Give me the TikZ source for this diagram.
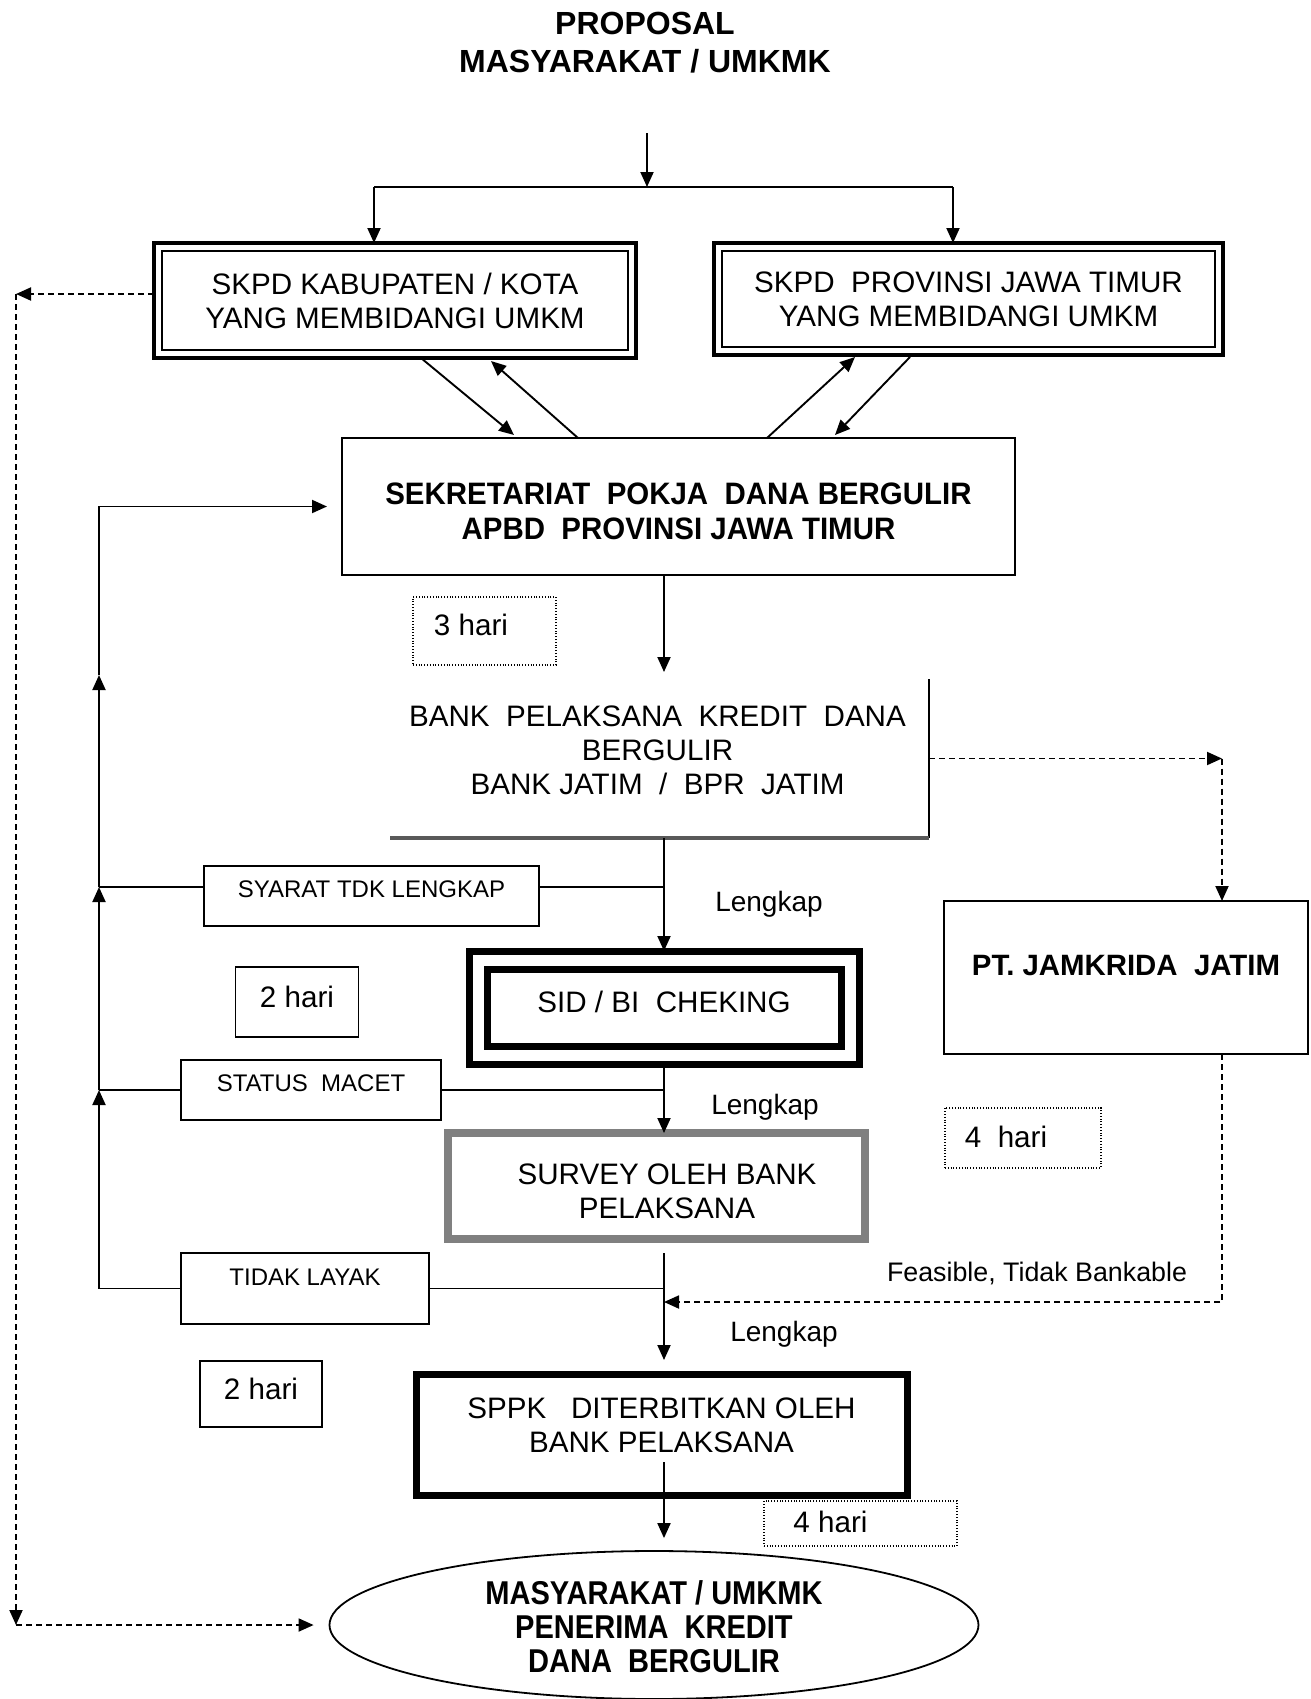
\documentclass[tikz,border=0pt]{standalone}
\usepackage{fontspec}
\setmainfont{Liberation Sans}
\newfontfamily\condA{Liberation Sans}[FakeStretch=0.95]
\newfontfamily\condB{Liberation Sans}[FakeStretch=0.88]
\usetikzlibrary{arrows.meta,calc,shapes.geometric}
\tikzset{
  ln/.style={line width=0.95pt},
  arr/.style={ln,-{Triangle[length=7.5pt,width=6.5pt]}},
  dsh/.style={line width=0.9pt,dash pattern=on 3pt off 2pt},
  rtxt/.style={font=\fontsize{14.8}{17}\selectfont,align=center},
  stxt/.style={font=\fontsize{12}{14}\selectfont,align=center},
  box/.style={rectangle,inner sep=0pt,outer sep=0pt},
  thinbox/.style={box,draw,line width=0.9pt},
  dotbox/.style={box,draw,line width=0.7pt,dash pattern=on 0.5pt off 0.9pt},
  dblbox/.style={box,draw,line width=2.3pt,rtxt},
}
\begin{document}
\begin{tikzpicture}[x=0.5pt,y=-0.5pt]
\useasboundingbox (0,0) rectangle (1311,1699);

% title
\node[font=\fontsize{16}{19}\selectfont\bfseries,align=center] (title) at (645,43) {PROPOSAL\\MASYARAKAT / UMKMK};
\coordinate (ptop) at (647,133);
\coordinate (psplit) at (647,187);
\coordinate (hl) at (374,187);
\coordinate (hr) at (953,187);

% SKPD boxes
\node[dblbox,minimum width=241pt,minimum height=57.5pt] (kab) at (395,300.5) {SKPD KABUPATEN / KOTA\\YANG MEMBIDANGI UMKM};
\draw[line width=1pt] ([shift={(8,8)}]kab.north west) rectangle ([shift={(-8,-8)}]kab.south east);
\node[dblbox,minimum width=254.5pt,minimum height=56pt] (prov) at (968.5,299) {SKPD\ \ PROVINSI JAWA TIMUR\\YANG MEMBIDANGI UMKM};
\draw[line width=1pt] ([shift={(8,8)}]prov.north west) rectangle ([shift={(-8,-8)}]prov.south east);

% sekretariat
\node[thinbox,minimum width=336.5pt,minimum height=68.5pt,label={[font=\fontsize{15.5}{17.5}\selectfont\condA\bfseries,align=center,yshift=-2.2pt]center:{SEKRETARIAT\ \ POKJA\ \ DANA BERGULIR\\APBD\ \ PROVINSI JAWA TIMUR}}] (sek) at (678.5,506.5) {};

% 3 hari
\node[dotbox,minimum width=71.5pt,minimum height=34pt,label={[rtxt,xshift=-6.75pt,yshift=3pt]center:3 hari}] (h3) at (484.5,631) {};

% bank
\node[box,minimum width=269.5pt,minimum height=79.5pt,label={[rtxt,xshift=-1pt,yshift=4.25pt]center:{BANK\ \ PELAKSANA\ \ KREDIT\ \ DANA\\BERGULIR\\BANK JATIM\ \ /\ \ BPR\ \ JATIM}}] (bank) at (659.5,758.5) {};
\draw[line width=0.8pt] (bank.north east) -- (bank.south east);
\draw[line width=2pt,black!65] (bank.south west) -- (bank.south east);

% PT Jamkrida
\node[thinbox,minimum width=182pt,minimum height=76.5pt,label={[font=\fontsize{14.7}{17}\selectfont\bfseries,yshift=6pt]center:{PT. JAMKRIDA\ \ JATIM}}] (pt) at (1126,977.5) {};

% side boxes
\node[thinbox,minimum width=167.5pt,minimum height=30pt,label={[stxt,yshift=3.5pt]center:SYARAT TDK LENGKAP}] (syarat) at (371.5,896) {};
\node[thinbox,minimum width=61.5pt,minimum height=35pt,label={[rtxt,yshift=2.5pt]center:2 hari}] (h2a) at (297,1002) {};
\node[thinbox,minimum width=130pt,minimum height=30pt,label={[stxt,yshift=3.5pt]center:{STATUS\ \ MACET}}] (status) at (311,1090) {};
\node[thinbox,minimum width=124pt,minimum height=35.5pt,label={[stxt,yshift=5.75pt]center:TIDAK LAYAK}] (tidak) at (305,1288.5) {};
\node[thinbox,minimum width=61pt,minimum height=33pt,label={[rtxt,yshift=2.5pt]center:2 hari}] (h2b) at (261,1394) {};

% SID
\node[box,draw,line width=3.5pt,minimum width=195pt,minimum height=56.5pt,label={[rtxt,yshift=2.7pt]center:{SID / BI\ \ CHEKING}}] (sid) at (664,1007.5) {};
\draw[line width=3.5pt] ([shift={(18,18)}]sid.north west) rectangle ([shift={(-18,-18)}]sid.south east);

% 4 hari (1)
\node[dotbox,minimum width=78pt,minimum height=30pt,label={[rtxt,xshift=-8.5pt,yshift=0.5pt]center:{4\ \ hari}}] (h4a) at (1023,1138) {};

% survey
\node[box,draw=black!50,line width=4pt,minimum width=208.5pt,minimum height=53pt,label={[rtxt,xshift=5.25pt,yshift=-2.5pt]center:{SURVEY OLEH BANK\\PELAKSANA}}] (survey) at (656.5,1186) {};

% SPPK
\node[box,draw,line width=3.5pt,minimum width=245.5pt,minimum height=60.5pt,label={[rtxt,yshift=4.75pt]center:{SPPK\ \ \ DITERBITKAN OLEH\\BANK PELAKSANA}}] (sppk) at (661.5,1434.5) {};

% 4 hari (2)
\node[dotbox,minimum width=96.5pt,minimum height=22.5pt,label={[rtxt,xshift=-15pt,yshift=1pt]center:4 hari}] (h4b) at (860.5,1523.5) {};

% ellipse
\node[draw,ellipse,line width=0.9pt,inner sep=0pt,minimum width=324.5pt,minimum height=74pt,label={[font=\fontsize{16.5}{17}\selectfont\condB\bfseries,align=center,yshift=-1pt]center:{MASYARAKAT / UMKMK\\PENERIMA\ \ KREDIT\\DANA\ \ BERGULIR}}] (ell) at (654,1625) {};

% labels
\node[font=\fontsize{14}{16}\selectfont] (l1) at (769,904) {Lengkap};
\node[font=\fontsize{14}{16}\selectfont] (l2) at (765,1107) {Lengkap};
\node[font=\fontsize{14}{16}\selectfont] (l3) at (784,1334) {Lengkap};
\node[font=\fontsize{13.4}{16}\selectfont] (feas) at (1037,1273) {Feasible, Tidak Bankable};

% coordinates
\coordinate (mx) at (664,0);
\coordinate (lx) at (99,0);
\coordinate (dx) at (1222,0);
\coordinate (lmid) at (99,675);
\coordinate (fb) at (1222,1302);
\coordinate (dtop) at (16,294);
\coordinate (dbot) at (16,1625);
\coordinate (sye) at ([yshift=4.5pt]syarat.east);
\coordinate (syw) at ([yshift=4.5pt]syarat.west);
\coordinate (sppkin) at (664,1462);

% top connectors
\draw[arr] (ptop) -- (psplit);
\draw[ln] (hl) -- (hr);
\draw[arr] (hl) -- (hl |- kab.north);
\draw[arr] (hr) -- (hr |- prov.north);

% diagonals
\draw[arr] ($(kab.south west)+(267,0)$) -- ($(sek.north west)+(172,-3)$);
\draw[arr] ($(sek.north west)+(236,0)$) -- ($(kab.south west)+(337,3)$);
\draw[arr] ($(sek.north west)+(425,0)$) -- ($(prov.south west)+(141,2)$);
\draw[arr] ($(prov.south west)+(196,2)$) -- ($(sek.north west)+(493,-3)$);

% left dashed loop
\draw[dsh,arr] (kab.west |- dtop) -- (dtop);
\draw[dsh,arr] (dtop) -- (dbot);
\draw[dsh,arr,shorten >=7.5pt] (dbot) -- (ell.west);

% main vertical
\draw[arr,shorten >=3.5pt] (sek.south -| mx) -- (bank.north -| mx);
\draw[arr] (bank.south -| mx) -- (sid.north -| mx);
\draw[arr] (sid.south -| mx) -- (survey.north -| mx);
\draw[arr,shorten <=7pt,shorten >=7pt] (survey.south -| mx) -- (sppk.north -| mx);
\draw[arr,shorten >=6pt] (sppkin) -- (ell.north -| mx);

% rejections
\draw[ln] (mx |- sye) -- (sye);
\draw[ln] (syw) -- (lx |- syw);
\draw[ln] (mx |- status.east) -- (status.east);
\draw[ln] (status.west) -- (lx |- status.west);
\draw[ln] (mx |- tidak.east) -- (tidak.east);
\draw[ln] (tidak.west) -- (lx |- tidak.west);
\draw[arr] (lx |- tidak.west) -- (lx |- status.west);
\draw[arr] (lx |- status.west) -- (lx |- syw);
\draw[arr] (lx |- syw) -- (lmid);
\draw[arr,shorten >=7.5pt] (lmid) -- (lx |- sek.west) -- (sek.west);

% dashed to Jamkrida
\draw[dsh,arr] (bank.east) -- (dx |- bank.east);
\draw[dsh,arr] (dx |- bank.east) -- (dx |- pt.north);
\draw[dsh,arr] (dx |- pt.south) -- (fb) -- (mx |- fb);
\end{tikzpicture}
\end{document}
